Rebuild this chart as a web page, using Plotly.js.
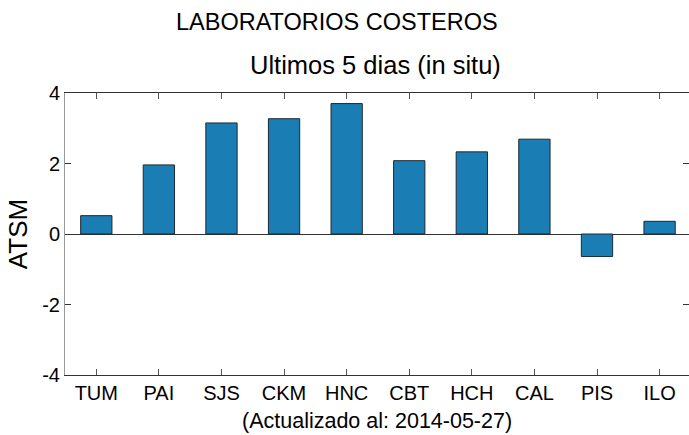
<!DOCTYPE html>
<html>
<head>
<meta charset="utf-8">
<script src="https://cdn.plot.ly/plotly-3.0.1.min.js"></script>
<style>html,body{margin:0;padding:0;background:#fff;}#chart{width:689px;height:435px;}</style>
</head>
<body>
<div id="chart"></div>
<script>
const stations = ["TUM", "PAI", "SJS", "CKM", "HNC", "CBT", "HCH", "CAL", "PIS", "ILO"];
const atsm = [0.52, 1.96, 3.15, 3.27, 3.70, 2.08, 2.33, 2.69, -0.64, 0.36];
const yTicks = [-4, -2, 0, 2, 4];
const titleText = "LABORATORIOS COSTEROS";
const subtitleText = "Ultimos 5 dias (in situ)";
const footText = "(Actualizado al: 2014-05-27)";
const yLabel = "ATSM";

const FONT = "Liberation Sans, Arial, sans-serif";

const trace = {
  type: "bar",
  x: stations,
  y: atsm,
  marker: { color: "#1a7db3", line: { color: "#1c2a33", width: 1 } },
  hoverinfo: "skip"
};

const layout = {
  width: 689, height: 435,
  margin: { l: 65, r: 0, t: 93, b: 60 },
  paper_bgcolor: "#ffffff",
  plot_bgcolor: "#ffffff",
  showlegend: false,
  bargap: 0.5,
  font: { family: FONT, color: "#000", size: 20 },
  xaxis: {
    type: "category",
    range: [-0.5, 9.47],
    showline: true, linecolor: "#333", linewidth: 1,
    mirror: "ticks",
    ticks: "inside", ticklen: 6, tickcolor: "#555", tickwidth: 1,
    showgrid: false, zeroline: false,
    tickfont: { family: FONT, size: 20, color: "#000" },
    fixedrange: true
  },
  yaxis: {
    range: [-4, 4],
    tickmode: "array", tickvals: yTicks, ticktext: yTicks.map(String),
    showline: true, linecolor: "#999", linewidth: 1,
    mirror: "ticks",
    ticks: "inside", ticklen: 6, tickcolor: "#333", tickwidth: 1,
    showgrid: false,
    zeroline: true, zerolinecolor: "#333", zerolinewidth: 1,
    tickfont: { family: FONT, size: 20, color: "#000" },
    title: { text: yLabel, font: { family: FONT, size: 26, color: "#000" }, standoff: 7 },
    fixedrange: true
  },
  annotations: [
    { text: titleText, xref: "paper", yref: "paper", x: (337 - 65) / 624, y: 1, yshift: 71,
      xanchor: "center", yanchor: "middle", showarrow: false,
      font: { family: FONT, size: 23.5, color: "#000" } },
    { text: subtitleText, xref: "paper", yref: "paper", x: (375 - 65) / 624, y: 1, yshift: 28,
      xanchor: "center", yanchor: "middle", showarrow: false,
      font: { family: FONT, size: 25.5, color: "#000" } },
    { text: footText, xref: "paper", yref: "paper", x: (377 - 65) / 624, y: 0, yshift: -46,
      xanchor: "center", yanchor: "middle", showarrow: false,
      font: { family: FONT, size: 21.5, color: "#000" } }
  ]
};

Plotly.newPlot("chart", [trace], layout, { displayModeBar: false, staticPlot: true });
</script>
</body>
</html>
